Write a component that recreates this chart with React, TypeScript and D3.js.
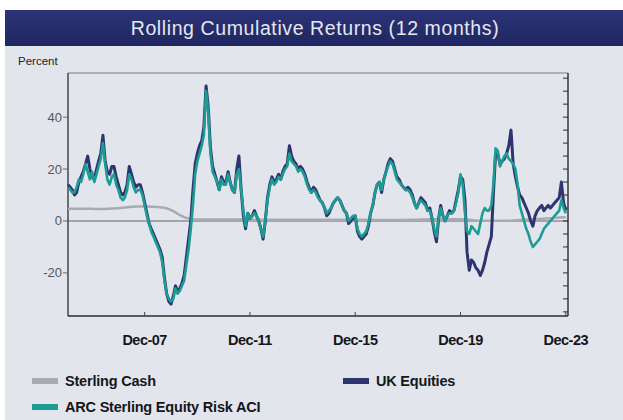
import React from "react";
import * as d3 from "d3";

const title = "Rolling Cumulative Returns (12 months)";
const yTicks = [40, 20, 0, -20];
const xTickLabels = ["Dec-07", "Dec-11", "Dec-15", "Dec-19", "Dec-23"];
const xTickDates = ["2007-12-01", "2011-12-01", "2015-12-01", "2019-12-01", "2023-12-01"];
const startMonth = "2005-01-01";

// Monthly values Jan 2005 .. Dec 2023
const ukEquities = [
  14, 13, 12, 10, 11, 15, 17, 19, 22, 25, 20, 17,
  16, 20, 23, 26, 33, 23, 19, 18, 21, 21, 17, 14,
  11, 10, 11, 14, 21, 18, 15, 13, 14, 14, 11, 7,
  3, -1, -3, -5, -7, -9, -11, -14, -22, -28, -31, -32,
  -29, -25, -27, -26, -24, -21, -14, -7, 0, 12, 22, 26,
  29, 31, 36, 52, 44, 28, 21, 18, 15, 12, 17, 15,
  15, 19, 15, 12, 11, 20, 25, 12, 2, -3, 3, 1,
  2, 4, 2, 0, -3, -7, 0, 9, 14, 17, 15, 16,
  18, 16, 19, 21, 22, 29, 25, 23, 22, 20, 21, 20,
  18, 15, 13, 11, 13, 12, 10, 8, 7, 5, 2, 3,
  5, 7, 8, 9, 8, 6, 4, 3, -1, 0, 1, 2,
  -4, -6, -7, -6, -5, -2, 3, 6, 11, 14, 15, 11,
  16, 19, 22, 24, 23, 20, 17, 16, 14, 13, 12, 13,
  12, 10, 7, 5, 7, 9, 8, 7, 4, 5, 1, -4,
  -8, 1, 6, 2, 0, 2, 4, 3, 4, 8, 12, 17,
  16, 8, -12, -19, -15, -16, -18, -19, -21, -19, -16, -12,
  -9, -6, 10, 26, 26, 22, 23, 24, 26, 29, 35, 22,
  17, 13, 10, 9, 7, 5, 3, 0, -2, 2, 4, 5,
  6, 4, 5, 6, 5, 6, 7, 8, 9, 15, 7, 4,
];

const arcEquityRisk = [
  13, 12, 11, 11, 13, 16, 15, 18, 22, 19, 16, 19,
  15, 18, 21, 24, 30, 22, 16, 14, 17, 18, 14, 12,
  9, 8, 9, 12, 18, 16, 13, 11, 12, 12, 10, 6,
  2, -1, -4, -6, -8, -10, -12, -16, -23, -28, -30, -31,
  -30, -26, -28, -27, -25, -23, -17, -11, -3, 6, 18, 23,
  26, 29, 33, 50, 42, 26, 19, 17, 15, 12, 16, 14,
  14, 18, 15, 12, 11, 18, 20, 12, 4, -2, 3, 1,
  2, 3, 2, 0, -3, -6, 0, 8, 13, 16, 14, 15,
  17, 16, 18, 20, 21, 26, 23, 22, 21, 19, 20, 19,
  17, 14, 12, 11, 12, 11, 9, 8, 7, 5, 3, 4,
  5, 7, 8, 9, 8, 6, 4, 3, 0, 1, 2, 2,
  -3, -5, -6, -5, -4, -1, 3, 6, 11, 14, 15, 12,
  16, 19, 21, 23, 22, 19, 16, 15, 14, 13, 12, 12,
  11, 9, 7, 5, 7, 8, 7, 6, 4, 4, 1, -3,
  -6, 1, 5, 2, 0, 2, 3, 3, 4, 7, 11, 18,
  14, 3, -4, -5, -2, -3, -4, -5, -1, 3, 5, 4,
  4, 6, 14, 28, 27, 21, 23, 25, 26, 24, 23, 22,
  20, 14, 6, 3, 0, -3, -5, -8, -10, -9, -8, -7,
  -5, -3, -2, -1, 0, 1, 2, 3, 4, 8, 5, 3,
];

const sterlingCash = [
  4.7, 4.7, 4.7, 4.7, 4.7, 4.7, 4.7, 4.7, 4.7, 4.7, 4.7, 4.7,
  4.6, 4.6, 4.6, 4.6, 4.6, 4.6, 4.7, 4.7, 4.8, 4.8, 4.9, 4.9,
  5.0, 5.1, 5.2, 5.3, 5.4, 5.5, 5.5, 5.6, 5.6, 5.6, 5.6, 5.6,
  5.6, 5.6, 5.5, 5.5, 5.4, 5.4, 5.3, 5.2, 5.1, 4.9, 4.6, 4.2,
  3.8, 3.3, 2.8, 2.3, 1.9, 1.5, 1.2, 1.0, 0.8, 0.7, 0.6, 0.6,
  0.6, 0.6, 0.6, 0.6, 0.6, 0.6, 0.6, 0.6, 0.6, 0.6, 0.6, 0.6,
  0.6, 0.6, 0.6, 0.6, 0.6, 0.6, 0.6, 0.6, 0.6, 0.6, 0.6, 0.6,
  0.5, 0.5, 0.5, 0.5, 0.5, 0.5, 0.5, 0.5, 0.5, 0.5, 0.5, 0.5,
  0.5, 0.5, 0.5, 0.5, 0.5, 0.5, 0.5, 0.5, 0.5, 0.5, 0.5, 0.5,
  0.5, 0.5, 0.5, 0.5, 0.5, 0.5, 0.5, 0.5, 0.5, 0.5, 0.5, 0.5,
  0.5, 0.5, 0.5, 0.5, 0.5, 0.5, 0.5, 0.5, 0.5, 0.5, 0.5, 0.5,
  0.5, 0.5, 0.5, 0.5, 0.5, 0.5, 0.5, 0.5, 0.4, 0.4, 0.4, 0.4,
  0.4, 0.4, 0.4, 0.4, 0.4, 0.4, 0.4, 0.4, 0.4, 0.4, 0.4, 0.5,
  0.5, 0.5, 0.5, 0.5, 0.5, 0.6, 0.6, 0.6, 0.6, 0.7, 0.7, 0.7,
  0.7, 0.7, 0.7, 0.7, 0.7, 0.7, 0.7, 0.7, 0.7, 0.7, 0.7, 0.7,
  0.7, 0.7, 0.6, 0.5, 0.4, 0.3, 0.2, 0.1, 0.1, 0.1, 0.1, 0.1,
  0.1, 0.1, 0.1, 0.1, 0.1, 0.1, 0.1, 0.1, 0.1, 0.1, 0.1, 0.2,
  0.3, 0.3, 0.4, 0.4, 0.5, 0.5, 0.6, 0.6, 0.7, 0.7, 0.8, 0.8,
  0.9, 0.9, 1.0, 1.0, 1.1, 1.1, 1.2, 1.2, 1.3, 1.3, 1.4, 1.4,
];

const legendItems = [
  { label: "Sterling Cash", color: "#a9abb2", col: 0, row: 0 },
  { label: "UK Equities", color: "#2e3470", col: 1, row: 0 },
  { label: "ARC Sterling Equity Risk ACI", color: "#1d9c94", col: 0, row: 1 },
];

const W = 623;
const H = 420;
const M = { left: 68, right: 568, top: 73, bottom: 316 };
const FONT = "'Liberation Sans', Arial, sans-serif";

export default function App() {
  const start = new Date(startMonth);
  const dates = ukEquities.map((_, i) => d3.timeMonth.offset(start, i));
  const x = d3
    .scaleTime()
    .domain([new Date("2005-01-01"), new Date("2024-01-01")])
    .range([M.left, M.right]);
  const y = d3.scaleLinear().domain([-36.6, 57]).range([M.bottom, M.top]);

  const line = (vals: number[]) =>
    d3
      .line<number>()
      .x((_, i) => x(dates[i]))
      .y((v) => y(v))
      .curve(d3.curveLinear)(vals) || "";

  const minorTicks = d3.range(-35, 57, 5);

  return (
    <svg
      width={W}
      height={H}
      style={{ position: "absolute", left: 0, top: 0, background: "#ffffff" }}
      fontFamily={FONT}
    >
      <defs>
        <linearGradient id="tb" x1="0" x2="0" y1="0" y2="1">
          <stop offset="0" stopColor="#2c3478" />
          <stop offset="1" stopColor="#1f2660" />
        </linearGradient>
      </defs>
      <rect x={5} y={10} width={W - 5} height={H - 10} fill="#e3e5ec" />
      <rect x={5} y={10} width={W - 5} height={36} fill="url(#tb)" />
      <text
        x={315}
        y={35}
        textAnchor="middle"
        fill="#e6e7f0"
        fontSize={19.5}
        letterSpacing={0.6}
      >
        {title}
      </text>
      <text x={18} y={65} fontSize={11.5} fill="#222">
        Percent
      </text>

      {/* zero line */}
      <line x1={M.left} x2={M.right} y1={y(0)} y2={y(0)} stroke="#8e8f94" strokeWidth={1.5} />

      {/* frame */}
      <line x1={M.left} x2={M.right} y1={M.top} y2={M.top} stroke="#7a7c84" strokeWidth={1.2} />
      <line x1={M.left} x2={M.left} y1={M.top} y2={M.bottom} stroke="#3a3b40" strokeWidth={1.4} />
      <line x1={M.right} x2={M.right} y1={M.top} y2={M.bottom} stroke="#2a2b30" strokeWidth={1.4} />
      <line x1={M.left} x2={M.right} y1={M.bottom} y2={M.bottom} stroke="#2a2b30" strokeWidth={1.6} />
      {minorTicks.map((t) => (
        <line key={t} x1={M.right - 5} x2={M.right} y1={y(t)} y2={y(t)} stroke="#2a2b30" strokeWidth={1} />
      ))}

      {/* y ticks */}
      {yTicks.map((t) => (
        <g key={t}>
          <line x1={M.left - 5} x2={M.left} y1={y(t)} y2={y(t)} stroke="#666" strokeWidth={1} />
          <text x={M.left - 6} y={y(t) + 4.5} textAnchor="end" fontSize={13} fill="#55575e">
            {t}
          </text>
        </g>
      ))}

      {/* x ticks */}
      {xTickDates.map((d, i) => (
        <g key={d}>
          <line x1={x(new Date(d))} x2={x(new Date(d))} y1={M.bottom} y2={M.bottom - 4} stroke="#444" />
          <text
            x={x(new Date(d))}
            y={345}
            textAnchor="middle"
            fontSize={14.5}
            fontWeight="bold"
            letterSpacing={-0.5}
            fill="#15161a"
          >
            {xTickLabels[i]}
          </text>
        </g>
      ))}

      {/* series */}
      <path d={line(sterlingCash)} fill="none" stroke="#a9abb2" strokeWidth={2.5} />
      <path d={line(ukEquities)} fill="none" stroke="#2e3470" strokeWidth={3} strokeLinejoin="round" />
      <path d={line(arcEquityRisk)} fill="none" stroke="#1d9c94" strokeWidth={2.6} strokeLinejoin="round" />

      {/* legend */}
      {legendItems.map((it) => {
        const lx = it.col === 0 ? 32 : 343;
        const ly = it.row === 0 ? 381 : 407;
        return (
          <g key={it.label}>
            <rect x={lx} y={ly - 3} width={26} height={6} fill={it.color} />
            <text
              x={lx + 33}
              y={ly + 5}
              fontSize={14.5}
              fontWeight="bold"
              letterSpacing={-0.2}
              fill="#15161a"
            >
              {it.label}
            </text>
          </g>
        );
      })}
    </svg>
  );
}
